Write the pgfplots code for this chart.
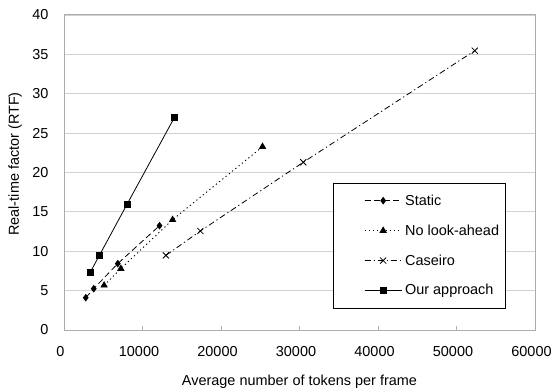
\documentclass[border=0pt]{standalone}
\usepackage{pgfplots}
\pgfplotsset{compat=1.18}
\usepackage{fontspec}
\setmainfont{Liberation Sans}
\begin{document}
\begin{tikzpicture}[x=1bp,y=1bp]
\begin{axis}[
  scale only axis,
  width=471bp, height=315bp,
  xmin=0, xmax=60000, ymin=0, ymax=40,
  xtick={0,10000,...,60000}, ytick={0,5,...,40},
  scaled x ticks=false,
  /pgf/number format/fixed,
  /pgf/number format/1000 sep={},
  /pgf/number format/assume math mode=true,
  tick label style={font=\fontsize{14.5}{17}\selectfont},
  label style={font=\fontsize{14.5}{17}\selectfont},
  xlabel={Average number of tokens per frame},
  ylabel={Real-time factor (RTF)},
  xlabel style={at={(axis description cs:0.5,0)}, anchor=center, yshift=-52bp},
  ylabel style={at={(axis description cs:-0.104,0.527)}, anchor=center},
  xticklabel style={anchor=center, yshift=-21.5bp, xshift=-3.5bp},
  yticklabel style={anchor=east, xshift=-12bp},
  axis line style={gray!65, line width=1pt},
  ymajorgrids, grid style={gray!35, line width=0.8pt},
  xtick pos=bottom, ytick pos=left,
  tick align=inside,
  major tick length=4bp,
  ytick style={draw=none},
  xtick style={gray!60, line width=0.6pt},
  legend style={at={(axis description cs:0.571,0.467)}, anchor=north west, draw=black, line width=0.6pt,
    font=\fontsize{14.5}{17}\selectfont, row sep=14bp, inner xsep=3bp, inner ysep=9.5bp,
    nodes={inner xsep=3bp}},
  legend cell align=left,
  legend image code/.code={
    \path (0bp,0bp);
    \draw[#1] (28bp,0bp) -- (65bp,0bp);
    \draw[#1,mark repeat=2,mark phase=2] plot coordinates {(28bp,0bp) (46.5bp,0bp) (65bp,0bp)};
  },
]
\addplot[black, line width=0.8pt, dash pattern=on 6pt off 3.5pt, mark=diamond*, mark size=3.2pt, mark options={solid}]
  coordinates {(2770,4.1) (3790,5.25) (6850,8.43) (12170,13.25)};
\addlegendentry{Static}
\addplot[black, line width=0.9pt, dash pattern=on 1.2pt off 3pt, mark=triangle*, mark size=3.4pt, mark options={solid}]
  coordinates {(5110,5.67) (7240,7.79) (13830,14.0) (25290,23.28)};
\addlegendentry{No look-ahead}
\addplot[black, line width=0.8pt, dash pattern=on 6pt off 3pt on 1.2pt off 3pt, mark=x, mark size=4.3pt, mark options={solid}]
  coordinates {(12980,9.48) (17370,12.57) (30480,21.3) (52330,35.47)};
\addlegendentry{Caseiro}
\addplot[black, line width=0.8pt, mark=square*, mark size=3.1pt]
  coordinates {(3320,7.28) (4510,9.48) (8050,16.0) (14050,26.96)};
\addlegendentry{Our approach}
\end{axis}
\pgfresetboundingbox
\path (current axis.south west) ++(-64bp,-62bp) coordinate (bl);
\path (current axis.south west) ++(489bp,330bp) coordinate (tr);
\path (bl) rectangle (tr);
\end{tikzpicture}
\end{document}
